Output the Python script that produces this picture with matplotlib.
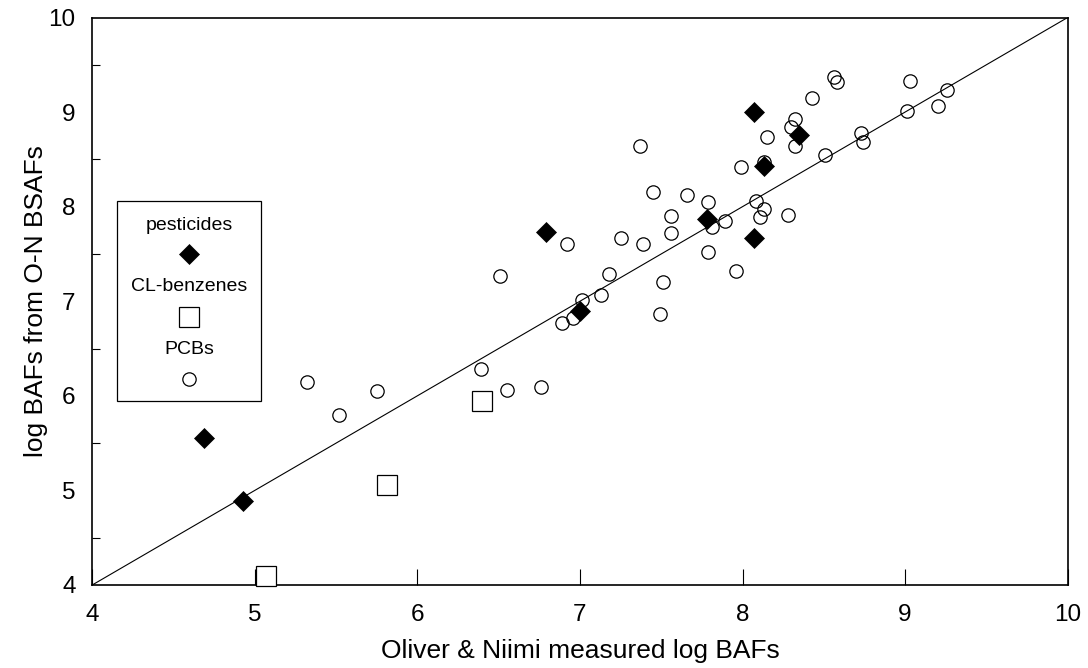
import matplotlib
matplotlib.use("Agg")
import matplotlib.pyplot as plt
from matplotlib.patches import Rectangle
from matplotlib.ticker import MultipleLocator

plt.rcParams['font.family'] = ['Liberation Sans', 'DejaVu Sans']

# ---- data ----
pest_x = [8.07, 8.35, 8.13, 7.78, 8.07, 7.00, 6.79, 4.69, 4.93]
pest_y = [9.00, 8.76, 8.43, 7.87, 7.67, 6.90, 7.73, 5.55, 4.89]

clb_x = [6.40, 5.81, 5.07]
clb_y = [5.95, 5.06, 4.10]

pcb_x = [8.56, 8.58, 9.03, 9.26, 8.43, 9.20, 9.01, 8.32, 8.30, 8.15,
         8.73, 8.74, 8.32, 7.37, 8.51, 8.13, 7.99, 7.45, 7.66, 7.79,
         8.08, 8.13, 7.56, 7.89, 8.11, 8.28, 7.81, 7.56, 7.25, 7.39,
         6.92, 7.79, 7.18, 7.51, 7.13, 7.01, 7.49, 7.96, 6.89, 6.96,
         6.51, 5.32, 5.52, 5.75, 6.39, 6.55, 6.76]
pcb_y = [9.37, 9.32, 9.33, 9.23, 9.15, 9.06, 9.01, 8.93, 8.84, 8.74,
         8.78, 8.68, 8.64, 8.64, 8.55, 8.47, 8.42, 8.15, 8.12, 8.05,
         8.06, 7.97, 7.90, 7.85, 7.89, 7.91, 7.79, 7.72, 7.67, 7.61,
         7.61, 7.52, 7.29, 7.20, 7.07, 7.01, 6.86, 7.32, 6.77, 6.82,
         7.27, 6.15, 5.80, 6.05, 6.28, 6.06, 6.09]

line_x = [4, 10]
line_y = [4, 10]

ticks = [4, 5, 6, 7, 8, 9, 10]
legend_labels = ["pesticides", "CL-benzenes", "PCBs"]

# ---- figure ----
fig = plt.figure(figsize=(10.88, 6.68), dpi=100)
ax = fig.add_axes([0.0848, 0.1243, 0.8965, 0.8495])

ax.plot(line_x, line_y, color='black', lw=0.8, zorder=1)
ax.plot(pcb_x, pcb_y, ls='none', marker='o', ms=9.6, mfc='none',
        mec='black', mew=0.9, zorder=2, clip_on=False)
ax.plot(clb_x, clb_y, ls='none', marker='s', ms=14, mfc='white',
        mec='black', mew=0.9, zorder=3, clip_on=False)
ax.plot(pest_x, pest_y, ls='none', marker='D', ms=10.2, mfc='black',
        mec='black', mew=0.5, zorder=4, clip_on=False)

ax.set_xlim(4, 10)
ax.set_ylim(4, 10)
ax.set_xticks(ticks)
ax.set_yticks(ticks)
ax.yaxis.set_minor_locator(MultipleLocator(0.5))

ax.tick_params(axis='x', which='major', direction='in', length=11.5,
               width=0.8, labelsize=17.5, pad=14)
ax.tick_params(axis='y', which='major', direction='in', length=0,
               labelsize=17.5, pad=12)
ax.tick_params(axis='y', which='minor', direction='in', length=6,
               width=0.8)
for s in ax.spines.values():
    s.set_linewidth(1.2)

ax.set_xlabel("Oliver & Niimi measured log BAFs", fontsize=19)
ax.set_ylabel("log BAFs from O-N BSAFs", fontsize=19)
ax.xaxis.set_label_coords(0.5, -0.095)
ax.yaxis.set_label_coords(-0.045, 0.5)

# ---- legend box (text above marker) ----
ax.add_patch(Rectangle((0.0256, 0.324), 0.1474, 0.352, transform=ax.transAxes,
                       fill=False, ec='black', lw=0.9, zorder=5))
cx = 0.0991
ax.text(cx, 0.634, legend_labels[0], transform=ax.transAxes, ha='center',
        va='center', fontsize=14)
ax.plot([cx], [0.583], transform=ax.transAxes, marker='D', ms=10.2,
        mfc='black', mec='black', mew=0.5, ls='none')
ax.text(cx, 0.526, legend_labels[1], transform=ax.transAxes, ha='center',
        va='center', fontsize=14)
ax.plot([cx], [0.472], transform=ax.transAxes, marker='s', ms=14,
        mfc='white', mec='black', mew=0.9, ls='none')
ax.text(cx, 0.415, legend_labels[2], transform=ax.transAxes, ha='center',
        va='center', fontsize=14)
ax.plot([cx], [0.3625], transform=ax.transAxes, marker='o', ms=9.6,
        mfc='none', mec='black', mew=0.9, ls='none')

fig.savefig("out.png", dpi=100)
